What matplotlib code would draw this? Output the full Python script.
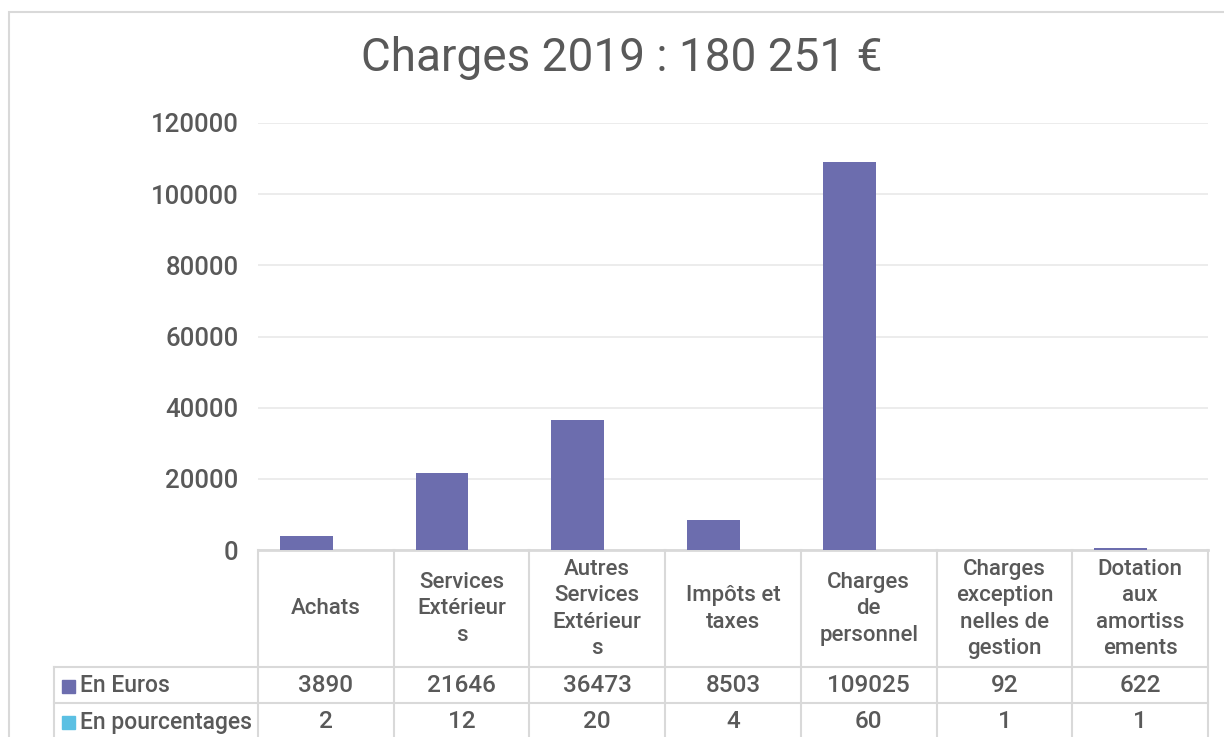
import numpy as np
import matplotlib
matplotlib.use("Agg")
import matplotlib.pyplot as plt
from matplotlib import transforms
from matplotlib.patches import Rectangle

# data
categories = ["Achats", "Services\nExtérieur\ns", "Autres\nServices\nExtérieur\ns",
              "Impôts et\ntaxes", "Charges\nde\npersonnel",
              "Charges\nexception\nnelles de\ngestion", "Dotation\naux\namortiss\nements"]
euros = [3890, 21646, 36473, 8503, 109025, 92, 622]
pourcentages = [2, 12, 20, 4, 60, 1, 1]
series_names = ["En Euros", "En pourcentages"]
title = "Charges 2019 : 180 251 €"

c_euro = "#6C6DAE"
c_pct = "#5BC0E3"
txt = "#595959"
grid_c = "#D9D9D9"

plt.rcParams["font.family"] = ["Roboto", "DejaVu Sans"]
plt.rcParams["font.weight"] = "medium"

W, H = 1224, 737
fig = plt.figure(figsize=(W / 100, H / 100), dpi=100)

def fx(px):
    return px / W

def fy(py):
    return 1 - py / H

# chart area
ax = fig.add_axes([fx(258), fy(550), fx(1208) - fx(258), fy(123) - fy(550)])
x = np.arange(len(euros))
ax.bar(x - 0.144, euros, width=0.39, color=c_euro, zorder=3)
ax.bar(x + 0.25, pourcentages, width=0.39, color=c_pct, zorder=3)
ax.set_xlim(-0.5, len(euros) - 0.5)
ax.set_ylim(0, 120000)
ax.set_yticks(np.arange(0, 120001, 20000))
ax.tick_params(axis="y", length=0, pad=14, labelsize=18.5, labelcolor=txt)
ax.set_xticks([])
ax.grid(axis="y", color="#EBEBEB", linewidth=1.3, zorder=0)
for s in ["top", "right", "left"]:
    ax.spines[s].set_visible(False)
ax.spines["bottom"].set_color(grid_c)
ax.spines["bottom"].set_linewidth(2)

fig.text(0.5 + 10 / W, fy(58), title, ha="center", va="center",
         fontsize=33, color="#595959", fontweight="normal")

# outer chart border
fig.patches.append(Rectangle((fx(9), -0.01), 1.0, fy(12) + 0.01, transform=fig.transFigure,
                             fill=False, edgecolor=grid_c, linewidth=1.5))

# data table under the chart
bt = transforms.blended_transform_factory(ax.transData, fig.transFigure)
edges = np.arange(len(euros) + 1) - 0.5
lw = 1.5
for e in edges:
    ax.plot([e, e], [fy(550), 0], transform=bt, color=grid_c, lw=lw, clip_on=False)
fig.add_artist(plt.Line2D([fx(54), fx(54)], [fy(667), 0], color=grid_c, lw=lw))
for yy in [667, 703]:
    fig.add_artist(plt.Line2D([fx(54), fx(1208)], [fy(yy), fy(yy)], color=grid_c, lw=lw))

for i, cat in enumerate(categories):
    ax.text(i, fy(609), cat, transform=bt, ha="center", va="center",
            fontsize=16, color=txt, linespacing=1.35)
    ax.text(i, fy(686), str(euros[i]), transform=bt, ha="center", va="center",
            fontsize=17.5, color=txt)
    ax.text(i, fy(722), str(pourcentages[i]), transform=bt, ha="center", va="center",
            fontsize=17.5, color=txt)

for name, col, yy in [(series_names[0], c_euro, 686), (series_names[1], c_pct, 722)]:
    fig.patches.append(Rectangle((fx(62), fy(yy + 6.5)), fx(13), 13 / H,
                                 transform=fig.transFigure, color=col))
    fig.text(fx(80), fy(yy), name, ha="left", va="center", fontsize=16.5, color=txt)

fig.savefig("out.png", dpi=100)
